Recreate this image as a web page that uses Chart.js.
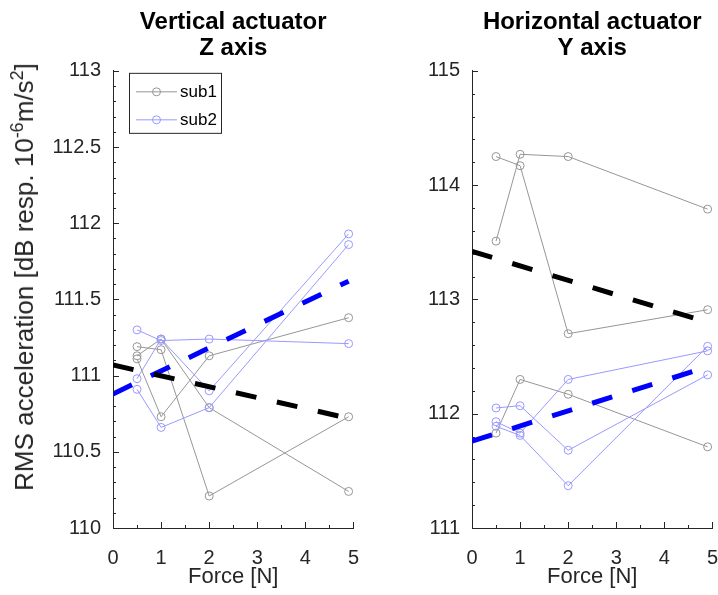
<!DOCTYPE html>
<html>
<head>
<meta charset="utf-8">
<script src="https://cdn.jsdelivr.net/npm/chart.js@4.4.1/dist/chart.umd.min.js"></script>
<style>
  html, body { margin: 0; padding: 0; background: #fff; }
  body { width: 718px; height: 595px; position: relative; overflow: hidden; font-family: "Liberation Sans", Arial, sans-serif; }
  .box { position: absolute; top: 0; width: 359px; height: 595px; }
  #ytitle { position: absolute; left: 24px; top: 277px; transform: translate(-50%, -50%) rotate(-90deg);
            white-space: nowrap; font-size: 26px; color: #262626; line-height: 1; }
  #ytitle sup { font-size: 18px; line-height: 0; vertical-align: 0.55em; }
</style>
</head>
<body>
<div class="box" style="left:0"><canvas id="zChart" width="359" height="595"></canvas></div>
<div class="box" style="left:359px"><canvas id="yChart" width="359" height="595"></canvas></div>
<div id="ytitle">RMS acceleration [dB resp. 10<sup>-6</sup>m/s<sup>2</sup>]</div>
<script>
// force levels of the measurements
const forces = [0.5, 1, 2, 4.9];
const trendX = [0, 4.9];
const forceTicks = [0, 1, 2, 3, 4, 5];

// Vertical actuator - Z axis
const zSub1 = [
  [111.19, 111.17, 110.21, 110.73],
  [111.11, 110.73, 111.13, 111.38],
  [111.13, 111.24, 110.79, 110.24]
];
const zSub2 = [
  [111.30, 111.23, 111.24, 111.21],
  [110.98, 111.24, 110.90, 111.93],
  [110.91, 110.66, 110.79, 111.86]
];
const zTrend1 = [111.07, 110.72];
const zTrend2 = [110.88, 111.62];
const zTicks = [110, 110.5, 111, 111.5, 112, 112.5, 113];

// Horizontal actuator - Y axis
const ySub1 = [
  [114.25, 114.17, 112.70, 112.91],
  [113.51, 114.27, 114.25, 113.79],
  [111.83, 112.30, 112.17, 111.71]
];
const ySub2 = [
  [112.05, 112.07, 111.68, 112.34],
  [111.93, 111.83, 112.30, 112.55],
  [111.89, 111.81, 111.37, 112.59]
];
const yTrend1 = [113.42, 112.80];
const yTrend2 = [111.76, 112.41];
const yTicks = [111, 112, 113, 114, 115];

const GRAY = 'rgb(150,150,150)';
const LBLUE = 'rgb(153,153,255)';
const AXIS = '#262626';
const FONT = '"Liberation Sans", Arial, sans-serif';

function lineSets(rows, color) {
  return rows.map(r => ({
    data: r.map((v, i) => ({ x: forces[i], y: v })),
    borderColor: color,
    borderWidth: 1,
    pointRadius: 4,
    pointBorderColor: color,
    pointBackgroundColor: 'rgba(0,0,0,0)',
    pointBorderWidth: 1,
    order: 2
  }));
}

function trendSet(vals, color) {
  return {
    data: vals.map((v, i) => ({ x: trendX[i], y: v })),
    borderColor: color,
    borderWidth: 5,
    borderDash: [21, 21],
    pointRadius: 0,
    order: -1
  };
}

// MATLAB style ticks pointing into the axes, with minor ticks
const inwardTicks = {
  id: 'inwardTicks',
  afterDraw(chart, args, opts) {
    const { ctx, chartArea: a, scales: { x, y } } = chart;
    ctx.save();
    ctx.strokeStyle = AXIS;
    ctx.lineWidth = 1;
    const line = (x1, y1, x2, y2) => { ctx.beginPath(); ctx.moveTo(x1, y1); ctx.lineTo(x2, y2); ctx.stroke(); };
    let n = Math.round((x.max - x.min) / opts.xMinor);
    for (let i = 0; i <= n; i++) {
      const v = x.min + i * opts.xMinor;
      const px = Math.round(x.getPixelForValue(v)) + 0.5;
      const major = i % Math.round(opts.xMajor / opts.xMinor) === 0;
      line(px, a.bottom, px, a.bottom - (major ? 6 : 3));
    }
    n = Math.round((y.max - y.min) / opts.yMinor);
    for (let i = 0; i <= n; i++) {
      const v = y.min + i * opts.yMinor;
      const py = Math.round(y.getPixelForValue(v)) + 0.5;
      const major = i % Math.round(opts.yMajor / opts.yMinor) === 0;
      line(a.left, py, a.left + (major ? 6 : 3), py);
    }
    ctx.restore();
  }
};

// legend box drawn inside the left axes
const boxLegend = {
  id: 'boxLegend',
  afterDraw(chart, args, opts) {
    if (!opts.items) return;
    const { ctx, chartArea: a } = chart;
    const bx = a.left + 16, by = a.top + 2, bw = 92, bh = 60;
    ctx.save();
    ctx.fillStyle = '#fff';
    ctx.fillRect(bx, by, bw, bh);
    ctx.strokeStyle = AXIS;
    ctx.lineWidth = 1;
    ctx.strokeRect(bx + 0.5, by + 0.5, bw, bh);
    opts.items.forEach((it, i) => {
      const ly = by + 19 + i * 28;
      ctx.strokeStyle = it.color;
      ctx.beginPath(); ctx.moveTo(bx + 7, ly); ctx.lineTo(bx + 48, ly); ctx.stroke();
      ctx.beginPath(); ctx.arc(bx + 27.5, ly, 4, 0, Math.PI * 2); ctx.stroke();
      ctx.fillStyle = '#000';
      ctx.font = '17px ' + FONT;
      ctx.textBaseline = 'middle';
      ctx.fillText(it.text, bx + 51, ly);
    });
    ctx.restore();
  }
};

function makeChart(id, title, sub1, sub2, t1, t2, ticks, yMinor, legend) {
  return new Chart(document.getElementById(id), {
    type: 'line',
    data: {
      datasets: [
        trendSet(t1, '#000'),
        trendSet(t2, '#0000ff'),
        ...lineSets(sub2, LBLUE),
        ...lineSets(sub1, GRAY)
      ]
    },
    plugins: [inwardTicks, boxLegend],
    options: {
      responsive: false,
      animation: false,
      devicePixelRatio: 1,
      layout: { padding: { left: 0, right: 5, top: 0, bottom: 0 } },
      plugins: {
        legend: { display: false },
        tooltip: { enabled: false },
        title: {
          display: true,
          fullSize: false,
          text: title,
          color: '#000',
          font: { family: FONT, size: 24, weight: 'bold', lineHeight: 1.08 },
          padding: { top: 9, bottom: 10 }
        },
        inwardTicks: { xMinor: 0.5, xMajor: 1, yMinor: yMinor, yMajor: ticks[1] - ticks[0] },
        boxLegend: { items: legend }
      },
      scales: {
        x: {
          type: 'linear',
          min: 0, max: 5,
          afterBuildTicks: s => { s.ticks = forceTicks.map(v => ({ value: v })); },
          afterFit: s => { s.height = 67; },
          grid: { drawOnChartArea: false, drawTicks: true, tickLength: 18, tickColor: 'rgba(0,0,0,0)' },
          border: { display: true, color: AXIS, width: 1 },
          ticks: { color: AXIS, font: { family: FONT, size: 20 }, padding: 0, maxRotation: 0 },
          title: { display: true, text: 'Force [N]', color: AXIS, font: { family: FONT, size: 22 }, padding: { top: 0, bottom: 5 } }
        },
        y: {
          type: 'linear',
          min: ticks[0], max: ticks[ticks.length - 1],
          afterBuildTicks: s => { s.ticks = ticks.map(v => ({ value: v })); },
          afterFit: s => { s.width = 113; },
          grid: { drawOnChartArea: false, drawTicks: false },
          border: { display: true, color: AXIS, width: 1 },
          ticks: { color: AXIS, font: { family: FONT, size: 20 }, padding: 12, callback: v => String(v) }
        }
      }
    }
  });
}

makeChart('zChart', ['Vertical actuator', 'Z axis'], zSub1, zSub2, zTrend1, zTrend2, zTicks, 0.1,
  [{ text: 'sub1', color: GRAY }, { text: 'sub2', color: LBLUE }]);
makeChart('yChart', ['Horizontal actuator', 'Y axis'], ySub1, ySub2, yTrend1, yTrend2, yTicks, 0.2, null);
</script>
</body>
</html>
